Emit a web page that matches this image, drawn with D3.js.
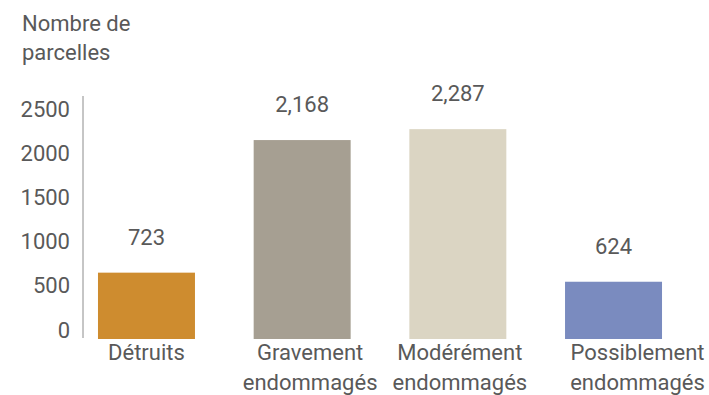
<!DOCTYPE html>
<html>
<head>
<meta charset="utf-8">
<script src="https://cdn.jsdelivr.net/npm/d3@7"></script>
<style>
  body { margin: 0; background: #fff; }
  text { font-family: Roboto, "Noto Sans", sans-serif; fill: #595959; }
</style>
</head>
<body>
<div id="chart"></div>
<script>
// data
const categories = [["Détruits"], ["Gravement", "endommagés"], ["Modérément", "endommagés"], ["Possiblement", "endommagés"]];
const values = [723, 2168, 2287, 624];
const valueLabels = ["723", "2,168", "2,287", "624"];
const colors = ["#ce8c2f", "#a69f92", "#dbd5c3", "#7a8bbf"];
const yTicks = [0, 500, 1000, 1500, 2000, 2500];
const yTitle = ["Nombre de", "parcelles"];

// category label nudges (layout only)
const labelShift = [0, 8, 2, 24];

const width = 709, height = 395;
const FONT = "22px";

const svg = d3.select("#chart")
  .append("svg")
  .attr("width", width)
  .attr("height", height);

const x = d3.scaleBand()
  .domain(d3.range(values.length))
  .range([68.4, 691.6])
  .paddingInner(0.377)
  .paddingOuter(0.19);

// bar scale
const y = d3.scaleLinear().domain([0, 2500]).range([339, 109.6]);
// tick label scale (labels sit a bit higher than bars in the original)
const yAxisScale = d3.scaleLinear().domain([0, 2500]).range([330, 109.5]);

// y axis labels
const yAxis = svg.append("g")
  .attr("transform", "translate(83,0)")
  .call(d3.axisLeft(yAxisScale).tickValues(yTicks).tickSize(0).tickPadding(13).tickFormat(d3.format("d")));
yAxis.select(".domain").remove();
yAxis.selectAll("text")
  .style("font-size", FONT)
  .style("font-family", "Roboto, sans-serif")
  .attr("fill", "#595959");

// axis line
svg.append("line")
  .attr("x1", 83).attr("x2", 83)
  .attr("y1", 96).attr("y2", 338)
  .attr("stroke", "#8c8c8c")
  .attr("stroke-width", 1);

// y title
svg.append("text")
  .attr("x", 22)
  .attr("y", 31)
  .style("font-size", FONT)
  .selectAll("tspan")
  .data(yTitle)
  .enter()
  .append("tspan")
  .attr("x", 22)
  .attr("dy", (d, i) => i === 0 ? 0 : 29)
  .text(d => d);

// bars
svg.append("g")
  .selectAll("rect")
  .data(values)
  .enter()
  .append("rect")
  .attr("x", (d, i) => x(i))
  .attr("y", d => y(d))
  .attr("width", x.bandwidth())
  .attr("height", d => y(0) - y(d))
  .attr("fill", (d, i) => colors[i]);

// value labels
svg.append("g")
  .selectAll("text")
  .data(values)
  .enter()
  .append("text")
  .attr("x", (d, i) => x(i) + x.bandwidth() / 2)
  .attr("y", d => y(d) - 28)
  .attr("text-anchor", "middle")
  .style("font-size", FONT)
  .text((d, i) => valueLabels[i]);

// category labels
const cat = svg.append("g")
  .selectAll("text")
  .data(categories)
  .enter()
  .append("text")
  .attr("text-anchor", "middle")
  .attr("y", 360)
  .style("font-size", FONT);

cat.selectAll("tspan")
  .data((d, i) => d.map(t => ({t: t, i: i})))
  .enter()
  .append("tspan")
  .attr("x", d => x(d.i) + x.bandwidth() / 2 + labelShift[d.i])
  .attr("dy", (d, j) => j === 0 ? 0 : 30)
  .text(d => d.t);
</script>
</body>
</html>
